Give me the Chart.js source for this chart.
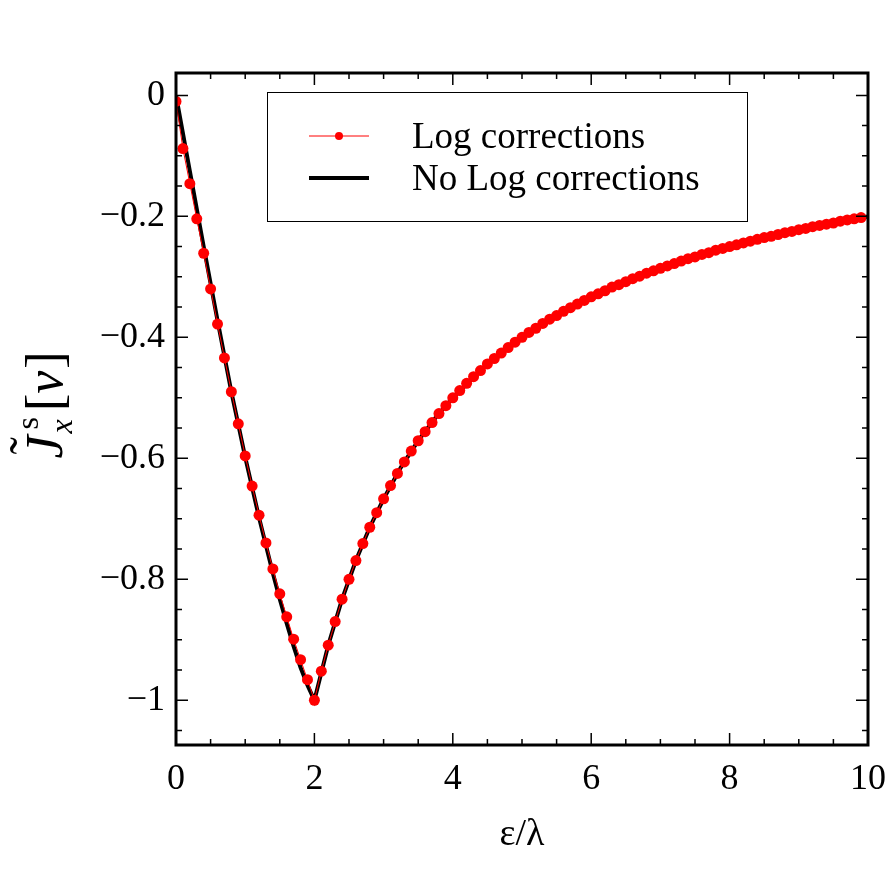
<!DOCTYPE html>
<html>
<head>
<meta charset="utf-8">
<script src="https://cdn.jsdelivr.net/npm/chart.js@4.4.1/dist/chart.umd.min.js"></script>
<style>
  html, body { margin: 0; padding: 0; background: #fff; }
  canvas { display: block; }
</style>
</head>
<body>
<canvas id="currentChart" width="888" height="890" style="width:888px;height:890px"></canvas>
<script>
'use strict';

const SERIF = "'Liberation Serif', 'Times New Roman', serif";

// LOG CORRECTIONS (red dots, every 0.1)
const xLog = [
  0.0, 0.1, 0.2, 0.3, 0.4, 0.5, 0.6, 0.7, 0.8, 0.9,
  1.0, 1.1, 1.2, 1.3, 1.4, 1.5, 1.6, 1.7, 1.8, 1.9,
  2.0, 2.1, 2.2, 2.3, 2.4, 2.5, 2.6, 2.7, 2.8, 2.9,
  3.0, 3.1, 3.2, 3.3, 3.4, 3.5, 3.6, 3.7, 3.8, 3.9,
  4.0, 4.1, 4.2, 4.3, 4.4, 4.5, 4.6, 4.7, 4.8, 4.9,
  5.0, 5.1, 5.2, 5.3, 5.4, 5.5, 5.6, 5.7, 5.8, 5.9,
  6.0, 6.1, 6.2, 6.3, 6.4, 6.5, 6.6, 6.7, 6.8, 6.9,
  7.0, 7.1, 7.2, 7.3, 7.4, 7.5, 7.6, 7.7, 7.8, 7.9,
  8.0, 8.1, 8.2, 8.3, 8.4, 8.5, 8.6, 8.7, 8.8, 8.9,
  9.0, 9.1, 9.2, 9.3, 9.4, 9.5, 9.6, 9.7, 9.8, 9.9
];
const yLog = [
  -0.010, -0.088, -0.146, -0.204, -0.261, -0.320, -0.378, -0.434, -0.490, -0.543,
  -0.596, -0.646, -0.694, -0.740, -0.783, -0.824, -0.862, -0.899, -0.933, -0.966,
  -1.000, -0.952, -0.909, -0.870, -0.833, -0.800, -0.769, -0.741, -0.714, -0.690,
  -0.667, -0.645, -0.625, -0.606, -0.588, -0.571, -0.556, -0.541, -0.526, -0.513,
  -0.500, -0.488, -0.476, -0.465, -0.455, -0.444, -0.435, -0.426, -0.417, -0.408,
  -0.400, -0.392, -0.385, -0.377, -0.370, -0.364, -0.357, -0.351, -0.345, -0.339,
  -0.333, -0.328, -0.323, -0.317, -0.313, -0.308, -0.303, -0.299, -0.294, -0.290,
  -0.286, -0.282, -0.278, -0.274, -0.270, -0.267, -0.263, -0.260, -0.256, -0.253,
  -0.250, -0.247, -0.244, -0.241, -0.238, -0.235, -0.233, -0.230, -0.227, -0.225,
  -0.222, -0.220, -0.217, -0.215, -0.213, -0.211, -0.208, -0.206, -0.204, -0.202
];

// NO LOG CORRECTIONS (thick black line)
const xNoLog = [0, 0.2, 0.4, 0.6, 0.8, 1.0, 1.2, 1.4, 1.5, 1.6, 1.7, 1.8, 1.9, 2.0,
  2.2, 2.4, 2.6, 2.8, 3.0, 3.25, 3.5, 3.75, 4.0, 4.5, 5.0, 5.5, 6.0, 6.5, 7.0, 7.5,
  8.0, 8.5, 9.0, 9.5, 10.0];
const yNoLog = [0, -0.125, -0.250, -0.372, -0.490, -0.598, -0.698, -0.790, -0.833, -0.873,
  -0.911, -0.946, -0.975, -1.000, -0.909, -0.833, -0.769, -0.714, -0.667, -0.615, -0.571,
  -0.533, -0.500, -0.444, -0.400, -0.364, -0.333, -0.308, -0.286, -0.267, -0.250, -0.235,
  -0.222, -0.211, -0.200];

const seriesLabels = ['Log corrections', 'No Log corrections'];
const xTickLabels = [0, 2, 4, 6, 8, 10];
const yTickLabels = [0, -0.2, -0.4, -0.6, -0.8, -1];

const toPoints = (xs, ys) => xs.map((x, i) => ({x: x, y: ys[i]}));
const near = (list, v) => list.some(t => Math.abs(t - v) < 1e-6);
const onStep = (v, step) => Math.abs(v / step - Math.round(v / step)) < 1e-6;

function yLabel(v) {
  const r = Math.round(v * 10) / 10;
  if (r === 0) return '0';
  return (r < 0 ? '\u2212' : '') + Math.abs(r);
}

// inward ticks on all four sides + heavy frame
const frameTicks = {
  id: 'frameTicks',
  afterDatasetsDraw(chart) {
    const {ctx, chartArea: a, scales: {x, y}} = chart;
    ctx.save();
    ctx.strokeStyle = '#000';
    ctx.lineWidth = 1.5;
    ctx.beginPath();
    x.ticks.forEach(t => {
      if (!onStep(t.value, 0.5)) return;
      const px = x.getPixelForValue(t.value);
      const len = near(xTickLabels, t.value) ? 12 : 6;
      ctx.moveTo(px, a.bottom); ctx.lineTo(px, a.bottom - len);
      ctx.moveTo(px, a.top); ctx.lineTo(px, a.top + len);
    });
    y.ticks.forEach(t => {
      if (!onStep(t.value, 0.05)) return;
      const py = y.getPixelForValue(t.value);
      const len = near(yTickLabels, t.value) ? 12 : 6;
      ctx.moveTo(a.left, py); ctx.lineTo(a.left + len, py);
      ctx.moveTo(a.right, py); ctx.lineTo(a.right - len, py);
    });
    ctx.stroke();
    ctx.lineWidth = 3;
    ctx.strokeRect(a.left, a.top, a.right - a.left, a.bottom - a.top);
    ctx.restore();
  }
};

// boxed legend inside the plot, plus the axis titles
const boxLegend = {
  id: 'boxLegend',
  afterDraw(chart) {
    const {ctx, chartArea: a} = chart;
    ctx.save();
    ctx.lineWidth = 1;
    ctx.strokeStyle = '#000';
    ctx.strokeRect(267.5, 92.5, 480, 129);

    chart.data.datasets.forEach((ds, i) => {
      const rowY = 136 + i * 42;
      ctx.strokeStyle = ds.borderColor;
      ctx.lineWidth = ds.borderWidth;
      ctx.beginPath();
      ctx.moveTo(309, rowY); ctx.lineTo(369, rowY);
      ctx.stroke();
      if (ds.pointRadius > 0) {
        ctx.fillStyle = ds.pointBackgroundColor;
        ctx.beginPath();
        ctx.arc(339, rowY, 4, 0, Math.PI * 2);
        ctx.fill();
      }
      ctx.fillStyle = '#000';
      ctx.font = `37px ${SERIF}`;
      ctx.textBaseline = 'alphabetic';
      ctx.textAlign = 'left';
      ctx.fillText(ds.label, 412, rowY + 12);
    });

    // x title
    ctx.fillStyle = '#000';
    ctx.font = `38px ${SERIF}`;
    ctx.textAlign = 'center';
    ctx.fillText('\u03b5/\u03bb', (a.left + a.right) / 2, 845);

    // y title, rotated: J~ ^s _x [v]
    const big = 52, small = 32;
    const fBig = `${big}px ${SERIF}`, fBigI = `italic ${big}px ${SERIF}`;
    const fSmall = `${small}px ${SERIF}`, fSmallI = `italic ${small}px ${SERIF}`;
    ctx.translate(62, (a.top + a.bottom) / 2 - 4);
    ctx.rotate(-Math.PI / 2);
    ctx.textAlign = 'left';
    const w = (t, f) => { ctx.font = f; return ctx.measureText(t).width; };
    const wJ = w('J', fBigI), wS = w('s', fSmall), wX = w('x', fSmallI);
    const wL = w('[', fBig), wV = w('v', fBigI), wR = w(']', fBig);
    const sub = Math.max(wS + 6, wX + 2);
    const total = wJ + 2 + sub + 4 + wL + wV + 2 + wR;
    let cx = -total / 2;
    ctx.font = fBigI; ctx.fillText('J', cx, 0);
    ctx.font = fBig; ctx.fillText('\u02dc', cx + 4, -16);
    cx += wJ + 2;
    ctx.font = fSmall; ctx.fillText('s', cx + 4, -24);
    ctx.font = fSmallI; ctx.fillText('x', cx, 10);
    cx += sub + 4;
    ctx.font = fBig; ctx.fillText('[', cx, 0); cx += wL;
    ctx.font = fBigI; ctx.fillText('v', cx, 0); cx += wV + 2;
    ctx.font = fBig; ctx.fillText(']', cx, 0);
    ctx.restore();
  }
};

new Chart(document.getElementById('currentChart'), {
  type: 'line',
  data: {
    datasets: [
      {
        label: seriesLabels[0],
        data: toPoints(xLog, yLog),
        borderColor: '#ff0000',
        backgroundColor: '#ff0000',
        pointBackgroundColor: '#ff0000',
        pointBorderColor: '#ff0000',
        borderWidth: 1,
        pointRadius: 5.5,
        pointBorderWidth: 0,
        tension: 0
      },
      {
        label: seriesLabels[1],
        data: toPoints(xNoLog, yNoLog),
        borderColor: '#000000',
        backgroundColor: '#000000',
        borderWidth: 4,
        pointRadius: 0,
        tension: 0
      }
    ]
  },
  options: {
    responsive: false,
    animation: false,
    devicePixelRatio: 1,
    layout: {padding: {left: 0, top: 73, right: 20, bottom: 0}},
    plugins: {legend: {display: false}, tooltip: {enabled: false}},
    scales: {
      x: {
        type: 'linear',
        min: 0,
        max: 10,
        grid: {display: false, drawTicks: false},
        border: {display: false},
        afterFit: scale => {
          scale.height = 145;
          scale.paddingLeft = 0;
          scale.paddingRight = 0;
        },
        ticks: {
          stepSize: 0.5,
          includeBounds: false,
          autoSkip: false,
          maxRotation: 0,
          padding: 13,
          color: '#000',
          font: {family: SERIF, size: 36},
          callback: v => near(xTickLabels, v) ? String(Math.round(v)) : ''
        }
      },
      y: {
        type: 'linear',
        min: -1.074,
        max: 0.037,
        grid: {display: false, drawTicks: false},
        border: {display: false},
        afterFit: scale => {
          scale.width = 176;
          scale.paddingTop = 0;
          scale.paddingBottom = 0;
        },
        ticks: {
          stepSize: 0.05,
          includeBounds: false,
          autoSkip: false,
          padding: 11,
          color: '#000',
          font: {family: SERIF, size: 36},
          callback: v => near(yTickLabels, v) ? yLabel(v) : ''
        }
      }
    }
  },
  plugins: [frameTicks, boxLegend]
});
</script>
</body>
</html>
